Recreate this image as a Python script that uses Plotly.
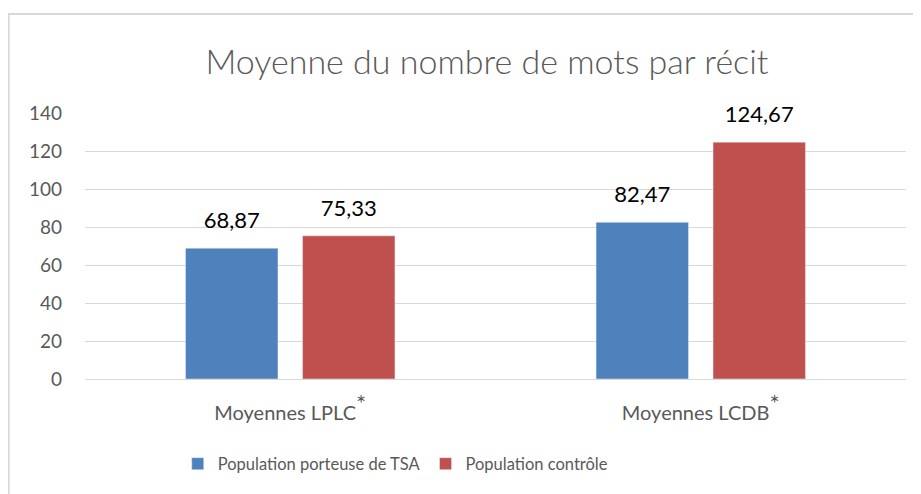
import plotly.graph_objects as go

categories = ["Moyennes LPLC<sup><span style='font-size:24px'>*</span></sup>",
              "Moyennes LCDB<sup><span style='font-size:24px'>*</span></sup>"]
series_names = ["Population porteuse de TSA", "Population contrôle"]
tsa_values = [68.87, 82.47]
ctrl_values = [75.33, 124.67]
tsa_labels = ["68,87", "82,47"]
ctrl_labels = ["75,33", "124,67"]
colors = ["#4F81BD", "#C0504D"]

FONT = "Lato"
GRAY = "#595959"

fig = go.Figure()
for i, (name, vals, col) in enumerate(zip(series_names, [tsa_values, ctrl_values], colors)):
    fig.add_trace(go.Bar(
        x=categories, y=vals, name=name, marker_color=col,
        offsetgroup=str(i), cliponaxis=False,
    ))
for i, (vals, labs) in enumerate(zip([tsa_values, ctrl_values], [tsa_labels, ctrl_labels])):
    fig.add_trace(go.Scatter(
        x=categories, y=vals, text=labs, mode="markers+text",
        textposition="top center", offsetgroup=str(i), showlegend=False,
        marker=dict(size=22, opacity=0), hoverinfo="skip", cliponaxis=False,
        textfont=dict(family=FONT, size=22, color="#000000"),
    ))

fig.update_layout(
    width=921, height=494,
    margin=dict(l=77, r=23, t=105, b=123, autoexpand=False),
    paper_bgcolor="white", plot_bgcolor="white",
    barmode="group", bargap=0.43, bargroupgap=0.21,
    scattermode="group", scattergap=0.43,
    title=dict(text="Moyenne du nombre de mots par récit",
               font=dict(family=FONT, size=34, color=GRAY, weight=300),
               x=0.520, xanchor="center", y=0.891, yanchor="middle",
               xref="container", yref="container"),
    legend=dict(orientation="h", x=0.421, xanchor="center", y=0.077, yanchor="middle",
                xref="container", yref="container",
                font=dict(family=FONT, size=16.5, color=GRAY), itemwidth=30,
                traceorder="normal"),
    showlegend=True,
    font=dict(family=FONT, color=GRAY),
    shapes=[dict(type="rect", xref="paper", yref="paper",
                 x0=-0.093, x1=1.1, y0=-0.7, y1=1.372,
                 line=dict(color="#d9d9d9", width=2), fillcolor="rgba(0,0,0,0)", layer="below")],
)
fig.update_yaxes(range=[0, 140], dtick=20, showgrid=True, gridcolor="#d9d9d9", gridwidth=1,
                 zeroline=False, showline=False, ticks="",
                 tickfont=dict(family=FONT, size=19, color=GRAY), ticklabelstandoff=22)
fig.update_xaxes(showline=True, linecolor="#d9d9d9", linewidth=1, ticks="",
                 tickfont=dict(family=FONT, size=20, color=GRAY), ticklabelstandoff=16)

fig.write_html("out.html")
